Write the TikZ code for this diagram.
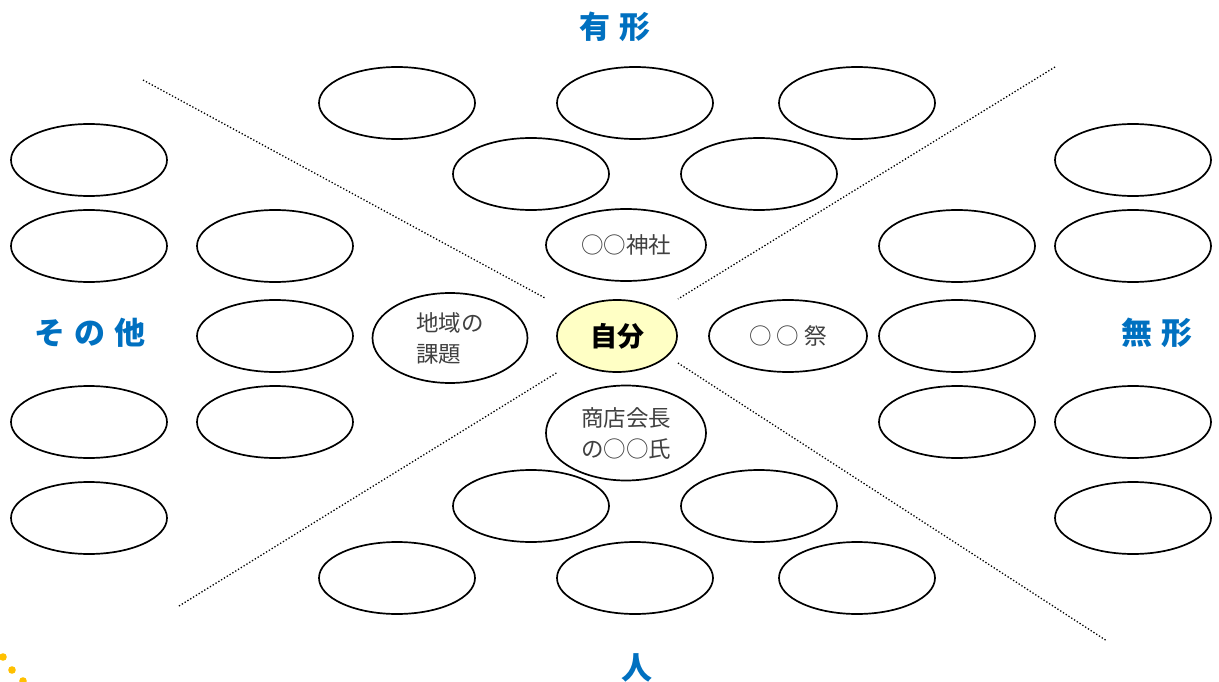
\documentclass[tikz,border=0pt]{standalone}
\usepackage{fontspec}
\usetikzlibrary{shapes.geometric}
\newfontfamily\jp{Noto Sans CJK JP}
\definecolor{labblue}{HTML}{0070C0}
\definecolor{txtgray}{HTML}{404040}
\definecolor{selfyellow}{HTML}{FFFFC5}
\definecolor{dotorange}{HTML}{FFC000}
\newcommand{\gp}{\hspace{9pt}}
\tikzset{
  ell/.style={ellipse, draw=black, line width=1.7pt, minimum width=156pt, minimum height=72pt, inner sep=0pt, fill=white},
  txt/.style={font=\jp\fontsize{22.5}{31}\selectfont, text=txtgray, align=center},
  lab/.style={font=\jp\bfseries\fontsize{31}{34}\selectfont, text=labblue},
  divider/.style={dotted, line width=1.3pt, black},
  deco/.style={fill=dotorange, draw=none}
}
\begin{document}
\begin{tikzpicture}[x=1pt,y=-1pt]
\useasboundingbox (0,0) rectangle (1219,682);
% dividers
\coordinate (tl1) at (143,80);   \coordinate (tl2) at (545,298);
\coordinate (tr1) at (1055,67);  \coordinate (tr2) at (678,299);
\coordinate (bl1) at (179,606);  \coordinate (bl2) at (558,372);
\coordinate (br1) at (678,363);  \coordinate (br2) at (1107,641);
\draw[divider] (tl1) -- (tl2);
\draw[divider] (tr1) -- (tr2);
\draw[divider] (bl1) -- (bl2);
\draw[divider] (br1) -- (br2);
% top group
\node[ell] (t1) at (397,103) {};
\node[ell] (t2) at (635,103) {};
\node[ell] (t3) at (857,103) {};
\node[ell] (t4) at (531,174) {};
\node[ell] (t5) at (759,174) {};
\node[ell, minimum width=160pt, txt] (jinja) at (626,245) {○○神社};
% center
\node[ell, minimum width=120pt, fill=selfyellow, font=\jp\bfseries\fontsize{27}{30}\selectfont] (self) at (617,336) {自分};
\node[ell, minimum width=158pt, txt] (matsuri) at (788,336) {○\hspace{5pt}○\hspace{5pt}祭};
\node[ell, minimum width=155pt, minimum height=90pt, txt, align=left] (kadai) at (450,338) {地域の\\課題};
\node[ell, minimum width=160pt, minimum height=95pt, txt, align=left] (kaicho) at (626,433) {商店会長\\の○○氏};
% bottom group
\node[ell] (b4) at (531,506) {};
\node[ell] (b5) at (759,506) {};
\node[ell] (b1) at (397,578) {};
\node[ell] (b2) at (635,578) {};
\node[ell] (b3) at (857,578) {};
% left
\node[ell] (l1) at (89,160) {};
\node[ell] (l2) at (89,246) {};
\node[ell] (l3) at (89,422) {};
\node[ell] (l4) at (89,518) {};
\node[ell] (l5) at (275,246) {};
\node[ell] (l6) at (275,336) {};
\node[ell] (l7) at (275,422) {};
% right
\node[ell] (r1) at (1133,160) {};
\node[ell] (r2) at (1133,246) {};
\node[ell] (r3) at (1133,422) {};
\node[ell] (r4) at (1133,518) {};
\node[ell] (r5) at (957,246) {};
\node[ell] (r6) at (957,336) {};
\node[ell] (r7) at (957,422) {};
% labels
\node[lab] (yukei) at (615,27) {有\gp 形};
\node[lab] (sonota) at (90,333) {そ\gp の\gp 他};
\node[lab] (mukei) at (1157,333) {無\gp 形};
\node[lab] (hito) at (637,668) {人};
% decoration dots
\fill[deco] (3,657) circle (3.8);
\fill[deco] (12,670) circle (3.8);
\fill[deco] (23,681) circle (3.8);
\end{tikzpicture}
\end{document}
